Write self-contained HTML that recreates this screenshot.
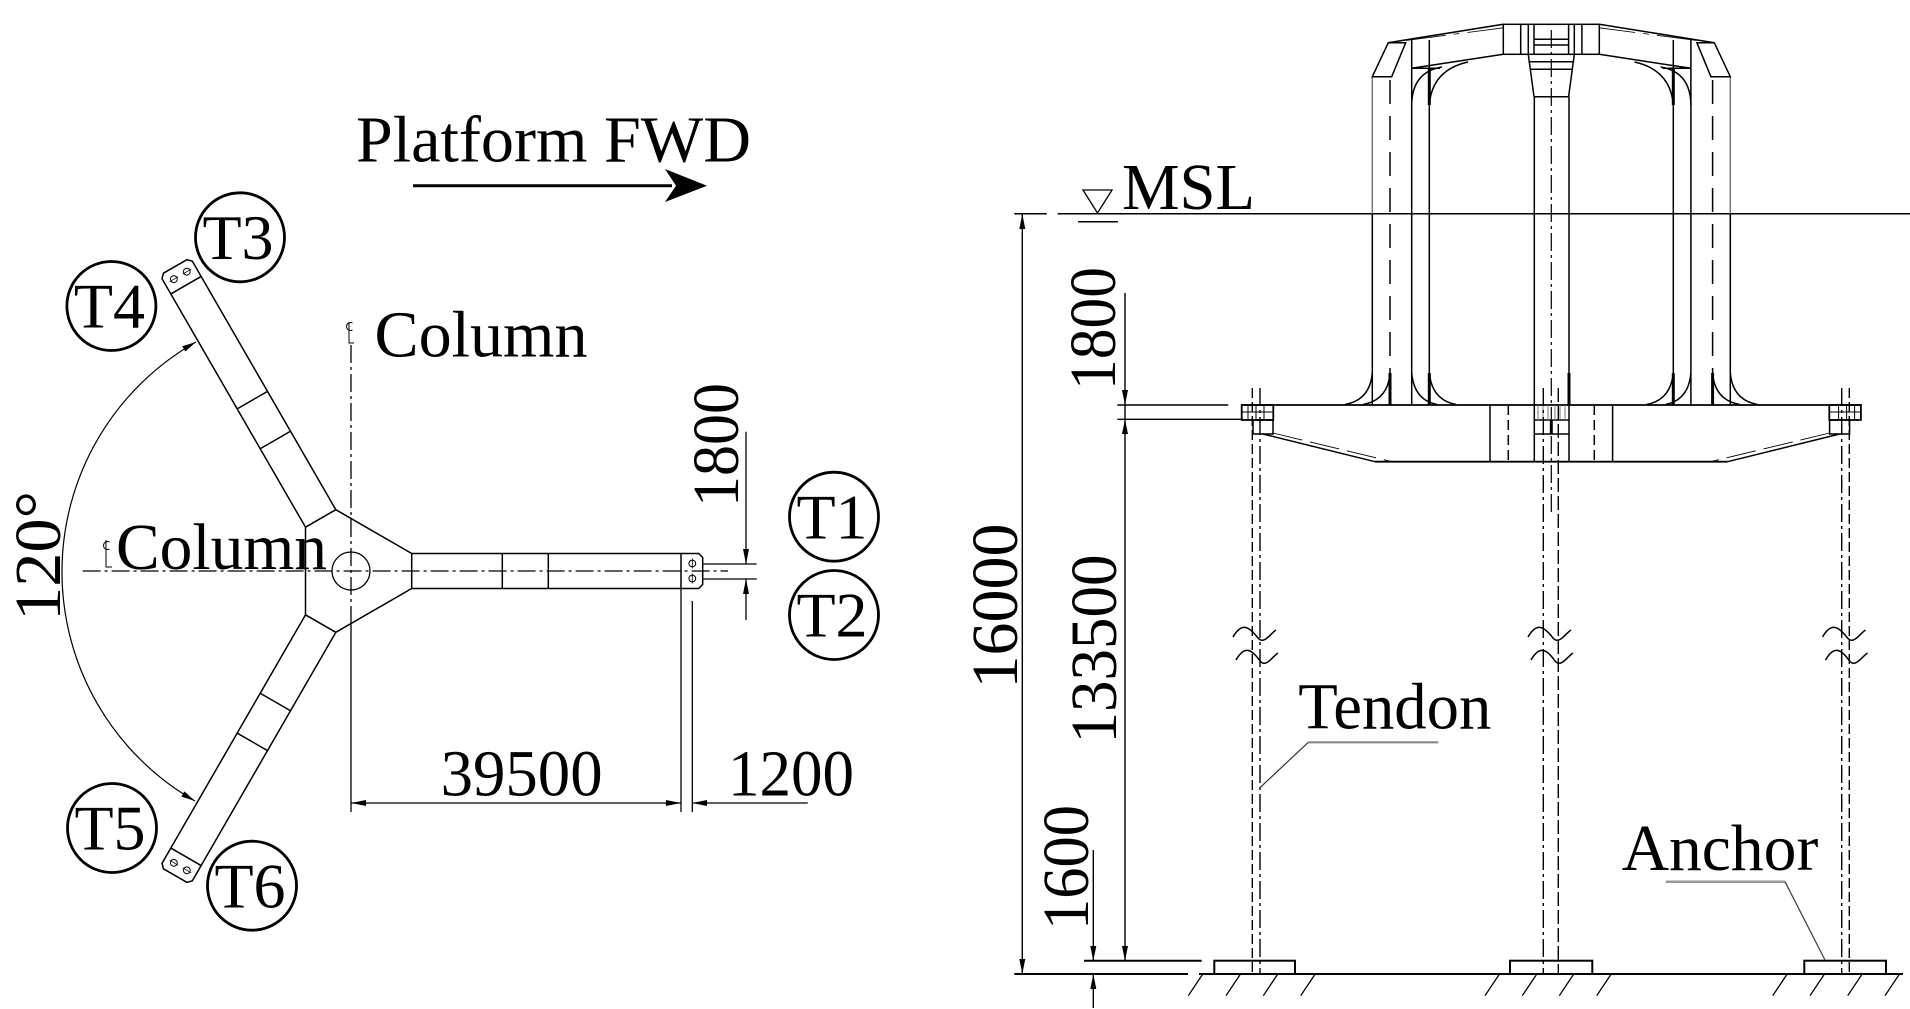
<!DOCTYPE html>
<html><head><meta charset="utf-8"><style>
html,body{margin:0;padding:0;background:#fff;}
svg{display:block;}
text{font-family:"Liberation Serif","Times New Roman",serif;fill:#000;}
</style></head><body>
<svg width="1910" height="1009" viewBox="0 0 1910 1009" xmlns="http://www.w3.org/2000/svg">
<defs>
<g id="arm" fill="none" stroke="#000" stroke-width="1.5">
 <path d="M411.7,553.5 H681 M411.7,588.5 H681 M411.7,553.5 V588.5 M502.3,553.5 V588.5 M548.3,553.5 V588.5 M681,553.5 V588.5"/>
 <path d="M681,553.5 H698.7 L702.7,557.5 V584.5 L698.7,588.5 H681"/>
 <circle cx="692.3" cy="563.5" r="3.4" stroke-width="1"/>
 <circle cx="692.3" cy="578.5" r="3.4" stroke-width="1"/>
 <path d="M692.3,558.5 V568.5 M692.3,573.5 V583.5" stroke-width="0.8"/>
</g>
<g id="half" fill="none" stroke="#000" stroke-width="1.5">
 <path d="M1372.3,76.7 V213.7" stroke="#777"/>
 <path d="M1372.3,213.7 V405"/>
 <path d="M1390,80 V373" stroke-dasharray="24 12"/>
 <path d="M1372.3,76.7 L1388.3,42.7 H1405.7 L1391.7,76.7 Z"/>
 <path d="M1411.7,40 V405 M1429.3,40 V405"/>
 <path d="M1388.3,42.7 L1503.3,24.3"/>
 <path d="M1406,40.5 L1503.3,27.8" stroke-width="0.8" stroke-dasharray="40 8 6 8"/>
 <path d="M1411.7,68.3 L1503.3,54.3 M1411.7,68.3 H1440"/>
 <path d="M1411.7,105 Q1412,72 1442,67 M1429.3,105 Q1432,70 1468,62"/>
 <path d="M1429.3,68 V105" stroke-width="3"/>
 <path d="M1345,404.5 Q1370,400 1372.3,373 M1363,404.5 Q1388,400 1390,373"/>
 <path d="M1390,373 V405" stroke-width="3"/>
 <path d="M1411.7,373 Q1414,400 1437,404.5 M1429.3,373 Q1432,400 1456,404.5"/>
 <path d="M1429.3,373 V405" stroke-width="3"/>
 <rect x="1241.7" y="405" width="31.6" height="15" stroke-width="1.8"/>
 <rect x="1253" y="420" width="20" height="14" stroke-width="1.5"/>
 <path d="M1248,405 V420 M1256,405 V420 M1264,405 V420 M1241.7,412 H1273" stroke-width="1"/>
 <path d="M1263,434 L1375,461.7"/>
 <path d="M1273,433 L1392,461.7" stroke-width="0.9" stroke-dasharray="30 8"/>
 <path d="M1490,405 V461.7"/>
 <path d="M1508.3,405 V461.7" stroke-dasharray="10 5"/>
</g>
<path id="brk" d="M-23,637 C-15,623 -8,625 2,638 C8,645 14,634 20,630 M-20,660 C-12,646 -5,648 4,661 C10,668 16,657 22,653" fill="none" stroke="#000" stroke-width="1.5"/>
</defs>

<!-- ================= LEFT PLAN VIEW ================= -->
<text x="356" y="161.7" font-size="66" textLength="395" lengthAdjust="spacingAndGlyphs">Platform FWD</text>
<line x1="413" y1="185.7" x2="672" y2="185.7" stroke="#000" stroke-width="3"/>
<polygon points="707,185.7 665,169 676,185.7 665,202" fill="#000"/>

<!-- T circles -->
<g fill="none" stroke="#000" stroke-width="2.8">
 <circle cx="240" cy="237.3" r="44.5"/>
 <circle cx="111.4" cy="306" r="44.5"/>
 <circle cx="834" cy="516.7" r="44.5"/>
 <circle cx="834" cy="615" r="44.5"/>
 <circle cx="112" cy="828" r="44.5"/>
 <circle cx="252" cy="885.7" r="44.5"/>
</g>
<g font-size="64" text-anchor="middle">
 <text x="238" y="259">T3</text>
 <text x="109.4" y="327.6">T4</text>
 <text x="832" y="538.3">T1</text>
 <text x="832" y="636.6">T2</text>
 <text x="110" y="849.6">T5</text>
 <text x="250" y="907.3">T6</text>
</g>

<!-- arms -->
<use href="#arm"/>
<use href="#arm" transform="rotate(-120 351 571)"/>
<use href="#arm" transform="rotate(120 351 571)"/>
<path d="M411.7,553.5 L335.8,509.7 M305.5,527.2 L305.5,614.8 M335.8,632.3 L411.7,588.5" fill="none" stroke="#000" stroke-width="1.5"/>
<circle cx="351" cy="571" r="19" fill="none" stroke="#000" stroke-width="1.3"/>

<!-- centerlines -->
<g fill="none" stroke="#000" stroke-width="1.3">
 <path d="M82.6,571 H728" stroke-dasharray="18 4 3 4"/>
 <path d="M351,345 V615" stroke-dasharray="18 4 3 4"/>
 <path d="M351,615 V812"/>
 <!-- CL symbols -->
 <path d="M352.5,323 A4,4 0 1 0 352.5,330" stroke-width="1"/>
 <path d="M349,322 V343 H354" stroke-width="1"/>
 <path d="M109.5,542 A4,4 0 1 0 109.5,549" stroke-width="1"/>
 <path d="M106,540 V567 H112" stroke-width="1"/>
</g>
<text x="374.5" y="356.7" font-size="66" textLength="213" lengthAdjust="spacingAndGlyphs">Column</text>
<text x="116" y="569" font-size="66" textLength="211" lengthAdjust="spacingAndGlyphs">Column</text>

<!-- 120 deg arc -->
<path d="M196,342 A264,264 0 0 0 195,801" fill="none" stroke="#000" stroke-width="1.2"/>
<polygon points="196,342 185.3,351.5 182.3,346.3" fill="#000"/>
<polygon points="195,801 181.4,796.6 184.4,791.4" fill="#000"/>
<text transform="translate(60,556) rotate(-90)" font-size="66" text-anchor="middle" textLength="130" lengthAdjust="spacingAndGlyphs">120°</text>

<!-- dims plan -->
<g fill="none" stroke="#000" stroke-width="1.3">
 <path d="M681,588.5 V812 M692.3,601 V812"/>
 <path d="M351,803 H681 M692.3,803 H807.8"/>
 <path d="M703,564 H756.7 M703,579 H756.7"/>
 <path d="M746,431.7 V564 M746,579 V620"/>
</g>
<g fill="#000">
 <polygon points="351,803 366,800 366,806"/>
 <polygon points="681,803 666,800 666,806"/>
 <polygon points="692.3,803 707,800 707,806"/>
 <polygon points="746,564 743,549 749,549"/>
 <polygon points="746,579 743,594 749,594"/>
</g>
<text x="440.6" y="795.7" font-size="66" textLength="162" lengthAdjust="spacingAndGlyphs">39500</text>
<text x="728" y="795.7" font-size="66" textLength="126" lengthAdjust="spacingAndGlyphs">1200</text>
<text transform="translate(738,445) rotate(-90)" font-size="66" text-anchor="middle" textLength="124" lengthAdjust="spacingAndGlyphs">1800</text>

<!-- ================= RIGHT ELEVATION ================= -->
<!-- MSL -->
<g fill="none" stroke="#000" stroke-width="1.5">
 <path d="M1014.3,213.7 H1046.7 M1057.7,213.7 H1910"/>
 <polygon points="1083,190 1112,190 1097.5,213" stroke-width="1.3"/>
 <path d="M1078,221.7 H1118"/>
</g>
<text x="1122" y="209" font-size="66" textLength="133" lengthAdjust="spacingAndGlyphs">MSL</text>

<!-- superstructure -->
<use href="#half"/>
<use href="#half" transform="translate(3102.6,0) scale(-1,1)"/>
<g fill="none" stroke="#000" stroke-width="1.5">
 <rect x="1503.3" y="24.3" width="96" height="30"/>
 <path d="M1520.7,24.3 V54.3 M1528.3,24.3 V54.3 M1574.3,24.3 V54.3 M1581.9,24.3 V54.3 M1534,24.3 V54.3 M1568.6,24.3 V54.3"/>
 <path d="M1534,39.3 H1568.6 M1534,45 H1568.6"/>
 <path d="M1528.3,54.3 L1534,96.7 M1574.3,54.3 L1568.6,96.7"/>
 <path d="M1528.3,61.7 H1574.3 M1531,69.3 H1571.6 M1534,96.7 H1568.6"/>
 <path d="M1534.3,96.7 V461.7 M1569,96.7 V461.7"/>
 <path d="M1569,373 V405" stroke-width="3"/>
 <path d="M1551.3,30 V512" stroke-dasharray="18 4 3 4" stroke-width="1.2"/>
 <!-- pontoon -->
 <path d="M1241.7,405 H1861.7" stroke-width="1.8"/>
 <path d="M1375,461.7 H1727.6" stroke-width="1.8"/>
 <path d="M1534.3,420 H1569 M1534.3,434 H1569"/>
 <path d="M1538,405 V420 M1543,405 V420 M1548,405 V420 M1555,405 V420 M1560,405 V420 M1565,405 V420" stroke="#777" stroke-width="1"/>
 <path d="M1551.3,420 V434" stroke-width="3"/>
</g>

<!-- tendons -->
<g fill="none" stroke="#000" stroke-width="1.4">
 <path d="M1252.3,388 V974" stroke-dasharray="10 4"/>
 <path d="M1260,388 V974" stroke-dasharray="18 4 3 4"/>
 <path d="M1543.3,388 V974" stroke-dasharray="18 4 3 4"/>
 <path d="M1558.3,388 V974" stroke-dasharray="14 4"/>
 <path d="M1841.7,388 V974" stroke-dasharray="18 4 3 4"/>
 <path d="M1849.3,388 V974" stroke-dasharray="10 4"/>
</g>
<use href="#brk" transform="translate(1256,0)"/>
<use href="#brk" transform="translate(1551,0)"/>
<use href="#brk" transform="translate(1845.5,0)"/>

<!-- ground and anchors -->
<g fill="none" stroke="#000" stroke-width="2">
 <path d="M1014.3,974 H1188 M1199,974 H1903"/>
 <path d="M1084,960.7 H1201.7"/>
 <rect x="1214.3" y="960.7" width="80.7" height="13.3"/>
 <rect x="1510" y="960.7" width="82.3" height="13.3"/>
 <rect x="1804.3" y="960.7" width="81.7" height="13.3"/>
</g>
<g fill="none" stroke="#000" stroke-width="1.3">
 <path d="M1188.3,995.7 L1202.8,974 M1226,995.7 L1240.5,974 M1263.3,995.7 L1277.8,974 M1300.7,995.7 L1315.2,974"/>
 <path d="M1485,995.7 L1499.5,974 M1522.3,995.7 L1536.8,974 M1559.3,995.7 L1573.8,974 M1596.7,995.7 L1611.2,974"/>
 <path d="M1772.7,995.7 L1787.2,974 M1810,995.7 L1824.5,974 M1847.7,995.7 L1862.2,974 M1885,995.7 L1899.5,974"/>
</g>

<!-- elevation dims -->
<g fill="none" stroke="#000" stroke-width="1.4">
 <path d="M1022.3,213.7 V974"/>
 <path d="M1125,293 V960.7"/>
 <path d="M1093.3,850 V960.7 M1093.3,974 V1008"/>
 <path d="M1117.3,405 H1228.3 M1117.3,419.3 H1243"/>
</g>
<g fill="#000">
 <polygon points="1022.3,213.7 1019.3,229 1025.3,229"/>
 <polygon points="1022.3,974 1019.3,959 1025.3,959"/>
 <polygon points="1125,405 1122,390 1128,390"/>
 <polygon points="1125,419.3 1122,434 1128,434"/>
 <polygon points="1125,960.7 1122,946 1128,946"/>
 <polygon points="1093.3,960.7 1090.3,946 1096.3,946"/>
 <polygon points="1093.3,974 1090.3,989 1096.3,989"/>
</g>
<text transform="translate(1017,606) rotate(-90)" font-size="66" text-anchor="middle" textLength="165" lengthAdjust="spacingAndGlyphs">16000</text>
<text transform="translate(1115,328.5) rotate(-90)" font-size="66" text-anchor="middle" textLength="123" lengthAdjust="spacingAndGlyphs">1800</text>
<text transform="translate(1116,649) rotate(-90)" font-size="66" text-anchor="middle" textLength="189" lengthAdjust="spacingAndGlyphs">133500</text>
<text transform="translate(1088,867.5) rotate(-90)" font-size="66" text-anchor="middle" textLength="125" lengthAdjust="spacingAndGlyphs">1600</text>

<!-- labels -->
<text x="1298.3" y="728.3" font-size="66" textLength="193" lengthAdjust="spacingAndGlyphs">Tendon</text>
<path d="M1308.3,742.3 H1438.3" stroke="#888" stroke-width="2.2"/>
<path d="M1308.3,742.3 L1259.3,788.3" stroke="#333" stroke-width="1.2"/>
<text x="1621.7" y="870" font-size="66" textLength="196.6" lengthAdjust="spacingAndGlyphs">Anchor</text>
<path d="M1665.7,881.7 H1785" stroke="#999" stroke-width="2.5"/>
<path d="M1785,881.7 L1825,960" stroke="#444" stroke-width="1.3"/>
</svg>
</body></html>
